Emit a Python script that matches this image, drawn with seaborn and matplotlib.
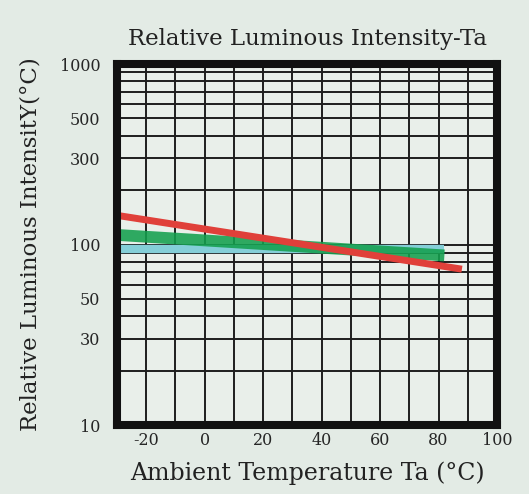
import numpy as np
import pandas as pd
import seaborn as sns
import matplotlib.pyplot as plt
from matplotlib.ticker import FixedLocator, LogLocator, NullFormatter

# values
temp_red = [-30, 88]
lum_red = [145, 73]
temp_green = [-30, 82]
lum_green = [113, 87]
temp_cyan = [-30, 82]
lum_cyan = [95, 95]

x_ticks = [-20, 0, 20, 40, 60, 80, 100]
y_ticks = [10, 30, 50, 100, 300, 500, 1000]

df = pd.concat([
    pd.DataFrame({"Ta": temp_cyan, "lum": lum_cyan, "s": "cyan"}),
    pd.DataFrame({"Ta": temp_green, "lum": lum_green, "s": "green"}),
    pd.DataFrame({"Ta": temp_red, "lum": lum_red, "s": "red"}),
])

sns.set_style("white", {"axes.facecolor": "#e9efea", "figure.facecolor": "#e3ebe5"})
plt.rcParams['font.family'] = ['DejaVu Serif']

fig = plt.figure(figsize=(5.29, 4.94), dpi=100)
ax = fig.add_axes([117/529, 1-425/494, 380/529, 361/494])

ax.set_yscale("log")
ax.set_xlim(-30, 100)
ax.set_ylim(10, 1000)

# grid
ax.xaxis.set_minor_locator(FixedLocator(np.arange(-20, 100, 10)))
ax.yaxis.set_minor_locator(LogLocator(base=10, subs=np.arange(2, 10)))
ax.yaxis.set_minor_formatter(NullFormatter())
ax.grid(which="both", axis="both", color="#1e1e1e", lw=1.4)

widths = {"cyan": 6, "green": 8.5, "red": 5}
colors = {"cyan": "#84cfd8", "green": "#14a04e", "red": "#e0403a"}
alphas = {"cyan": 1, "green": 0.88, "red": 1}
for s in ["cyan", "green", "red"]:
    sns.lineplot(data=df[df.s == s], x="Ta", y="lum", color=colors[s],
                 lw=widths[s], alpha=alphas[s], ax=ax, solid_capstyle="butt", zorder=3)

ax.set_xticks(x_ticks)
ax.set_xticklabels([str(t) for t in x_ticks])
ax.yaxis.set_major_locator(FixedLocator(y_ticks))
ax.set_yticklabels([str(t) for t in y_ticks])
ax.tick_params(which="both", length=0, labelsize=11.5)
ax.tick_params(axis="y", pad=12)
ax.tick_params(axis="x", pad=5)

for sp in ax.spines.values():
    sp.set_linewidth(5.8)
    sp.set_color("#111111")
    sp.set_zorder(5)

ax.set_title("Relative Luminous Intensity-Ta", fontsize=16.5, pad=14, color="#222222")
ax.set_xlabel("Ambient Temperature Ta (\u00b0C)", fontsize=17, labelpad=9, color="#222222")
ax.set_ylabel("Relative Luminous IntensitY(\u00b0C)", fontsize=16.5, labelpad=13, color="#222222")

fig.savefig("out.png", dpi=100, facecolor=fig.get_facecolor())
